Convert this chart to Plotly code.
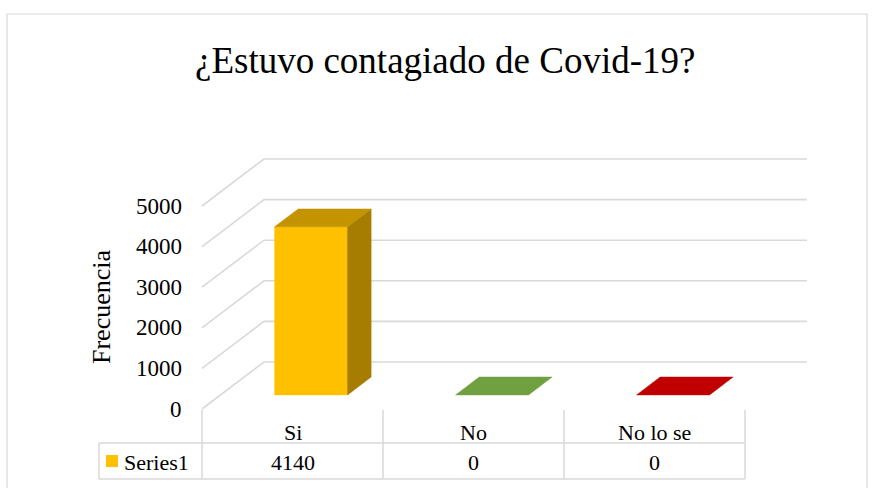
import plotly.graph_objects as go

# ---- data ----
categories = ["Si", "No", "No lo se"]
values = [4140, 0, 0]
series_name = "Series1"
tick_values = [0, 1000, 2000, 3000, 4000, 5000]
tick_labels = ["0", "1000", "2000", "3000", "4000", "5000"]
title_text = "¿Estuvo contagiado de Covid-19?"
y_title = "Frecuencia"

# ---- styling ----
FONT = "Liberation Serif, Times New Roman, serif"
front_cols = ["#FFC000", "#70AD47", "#C00000"]
top_cols = ["#C39300", "#70A040", "#C00000"]
side_cols = ["#A67D00", "#5A8A38", "#9A0000"]
GRID = "#D9D9D9"

W, H = 872, 488
# pixel geometry used to set axis ranges (front plane)
PX_X0 = 202.0        # pixel x of category edge -0.5
PX_CAT = 181.0       # pixels per category
PX_Y0 = 409.0        # pixel y of value 0 on front plane
PX_PER_V = 0.0406    # pixels per value unit
DDX = 62.0 / PX_CAT           # depth shift in category units
DDY = 47.0 / PX_PER_V         # depth shift in value units

x_range = [(0 - PX_X0) / PX_CAT - 0.5, (W - PX_X0) / PX_CAT - 0.5]
y_range = [(PX_Y0 - H) / PX_PER_V, PX_Y0 / PX_PER_V]


def P(x, v, d):
    return x + d * DDX, v + d * DDY


def poly(pts, color):
    xs = [p[0] for p in pts] + [pts[0][0]]
    ys = [p[1] for p in pts] + [pts[0][1]]
    return go.Scatter(x=xs, y=ys, mode="lines", fill="toself", fillcolor=color,
                      line=dict(color=color, width=0.5), hoverinfo="skip",
                      showlegend=False)


fig = go.Figure()

# gridlines: side wall + back wall
n = len(categories)
for v in tick_values:
    pts = [P(-0.5, v, 0), P(-0.5, v, 1), P(n - 0.5, v, 1)]
    fig.add_trace(go.Scatter(x=[p[0] for p in pts], y=[p[1] for p in pts],
                             mode="lines", line=dict(color=GRID, width=1.6),
                             hoverinfo="skip", showlegend=False))

# bars (3D look)
hw = 0.2015
d0, d1 = 0.30, 0.68
for i, v in enumerate(values):
    if v > 0:
        fig.add_trace(poly([P(i - hw, 0, d0), P(i + hw, 0, d0), P(i + hw, v, d0), P(i - hw, v, d0)], front_cols[i]))
        fig.add_trace(poly([P(i + hw, 0, d0), P(i + hw, 0, d1), P(i + hw, v, d1), P(i + hw, v, d0)], side_cols[i]))
    fig.add_trace(poly([P(i - hw, v, d0), P(i + hw, v, d0), P(i + hw, v, d1), P(i - hw, v, d1)], top_cols[i]))

annotations = []
# tick labels
for v, t in zip(tick_values, tick_labels):
    annotations.append(dict(x=-0.5, y=v, xref="x", yref="y", text=t, showarrow=False,
                            xanchor="right", yanchor="middle", xshift=-18,
                            font=dict(family=FONT, size=23, color="#000000")))
# axis title
annotations.append(dict(x=101 / W, y=1 - 307 / H, xref="paper", yref="paper", text=y_title,
                        showarrow=False, textangle=-90, xanchor="center", yanchor="middle",
                        font=dict(family=FONT, size=26, color="#000000")))
# title
annotations.append(dict(x=445 / W, y=1 - 60 / H, xref="paper", yref="paper", text=title_text,
                        showarrow=False, xanchor="center", yanchor="middle",
                        font=dict(family=FONT, size=37, color="#000000")))

# data table
shapes = []
tbl_top, row_mid, tbl_bot = 410, 443, 479
for k in range(n + 1):
    shapes.append(dict(type="line", xref="x", yref="paper", x0=k - 0.5, x1=k - 0.5,
                       y0=1 - tbl_top / H, y1=1 - tbl_bot / H, line=dict(color=GRID, width=1.5)))
for py in (row_mid, tbl_bot):
    shapes.append(dict(type="line", xref="paper", yref="paper", x0=99 / W, x1=(PX_X0 + n * PX_CAT) / W,
                       y0=1 - py / H, y1=1 - py / H, line=dict(color=GRID, width=1.5)))
shapes.append(dict(type="line", xref="paper", yref="paper", x0=99 / W, x1=99 / W,
                   y0=1 - row_mid / H, y1=1 - tbl_bot / H, line=dict(color=GRID, width=1.5)))
# legend key
shapes.append(dict(type="rect", xref="paper", yref="paper", x0=106 / W, x1=118 / W,
                   y0=1 - 467 / H, y1=1 - 455 / H, fillcolor=front_cols[0], line=dict(width=0)))
# outer chart border
shapes.append(dict(type="rect", xref="paper", yref="paper", x0=7 / W, x1=867 / W,
                   y0=-0.02, y1=1 - 14 / H, line=dict(color=GRID, width=1.2)))

for i, (c, v) in enumerate(zip(categories, values)):
    annotations.append(dict(x=i, y=1 - 432 / H, xref="x", yref="paper", text=c, showarrow=False,
                            xanchor="center", yanchor="middle",
                            font=dict(family=FONT, size=22, color="#000000")))
    annotations.append(dict(x=i, y=1 - 462 / H, xref="x", yref="paper", text=str(v), showarrow=False,
                            xanchor="center", yanchor="middle",
                            font=dict(family=FONT, size=22, color="#000000")))
annotations.append(dict(x=122 / W, y=1 - 462 / H, xref="paper", yref="paper", text=series_name,
                        showarrow=False, xanchor="left", yanchor="middle",
                        font=dict(family=FONT, size=22, color="#000000")))

fig.update_layout(
    width=W, height=H,
    margin=dict(l=0, r=0, t=0, b=0),
    paper_bgcolor="white", plot_bgcolor="white",
    xaxis=dict(range=x_range, visible=False, fixedrange=True),
    yaxis=dict(range=y_range, visible=False, fixedrange=True),
    shapes=shapes, annotations=annotations, showlegend=False,
)

fig.write_html("out.html", config={"displayModeBar": False},
               post_script="document.body.style.margin='0';")
